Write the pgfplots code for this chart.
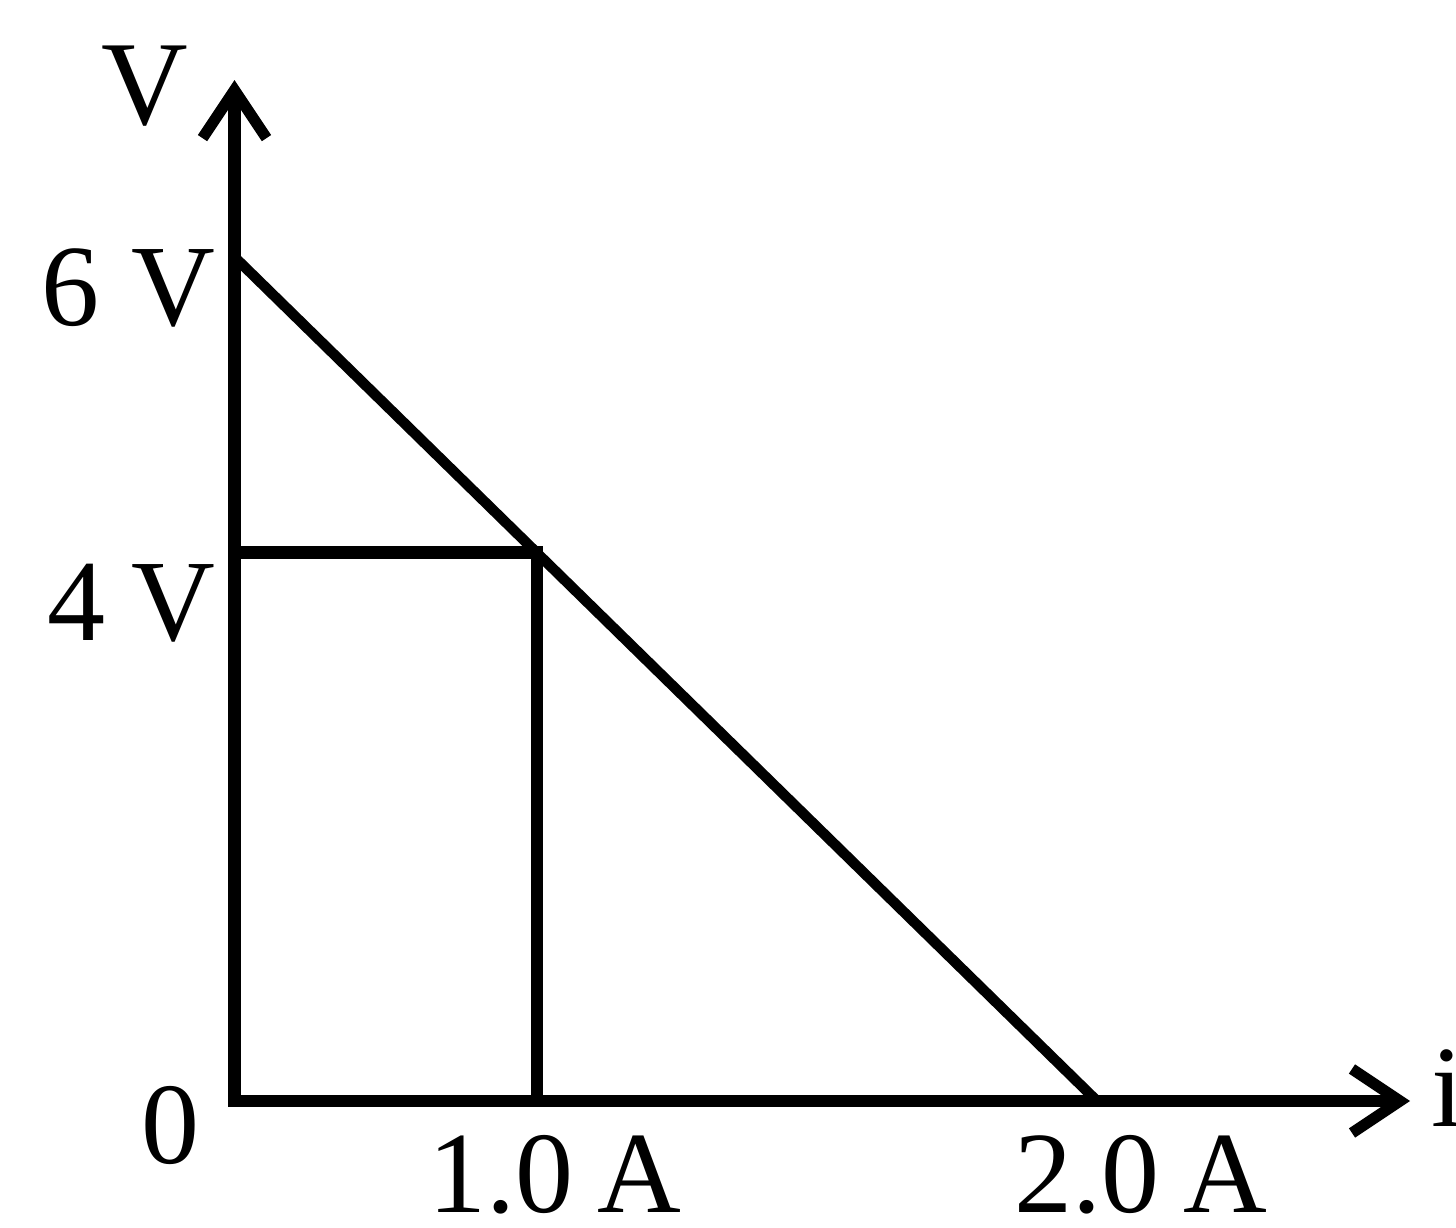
\documentclass[border=0pt]{standalone}
\usepackage{fontspec}
\setmainfont{Liberation Serif}
\usepackage{pgfplots}
\pgfplotsset{compat=1.18}
\usetikzlibrary{arrows.meta}
\begin{document}
\begin{tikzpicture}
\useasboundingbox (-58.625pt,-31.75pt) rectangle (305.375pt,275.25pt);
\begin{axis}[
  anchor=origin, at={(0pt,0pt)},
  x=107.8125pt, y=35.1675pt,
  xmin=0, xmax=2.726, ymin=0, ymax=7.258,
  axis lines=left,
  axis line style={line width=3.1pt, -{Straight Barb[length=12pt,width=16pt,line width=2.8pt]}},
  xtick={0.744,2.102},
  xticklabels={1.0\hspace{6pt}A, 2.0\hspace{6pt}A},
  ytick={3.540,5.783},
  yticklabels={4\hspace{6.5pt}V, 6\hspace{8pt}V},
  major tick length=0pt,
  tick style={draw=none},
  ticklabel style={font=\fontsize{29}{34}\selectfont},
  xticklabel style={anchor=north, inner sep=0pt, yshift=-8.5pt},
  yticklabel style={anchor=east, inner sep=0pt, xshift=-4.5pt},
  clip=false,
]
\addplot[black, line width=2.6pt, line cap=butt] coordinates {(0,6) (2,0)};
\addplot[black, line width=3.1pt, line join=miter, line cap=butt] coordinates {(0,3.899) (0.7014,3.899) (0.7014,0)};
\addplot[black, line width=3.1pt, line join=miter, line cap=butt] coordinates {(0,0.1) (0,0) (0.03,0)};
\node[inner sep=0pt, font=\fontsize{30}{36}\selectfont, xshift=-22.4pt] at (axis cs:0,7.212) {V};
\node[anchor=east, inner sep=0pt, font=\fontsize{29}{34}\selectfont, xshift=-8.5pt, yshift=-6.25pt] at (axis cs:0,0) {0};
\node[anchor=base west, inner sep=0pt, font=\fontsize{29}{34}\selectfont, xshift=5.25pt, yshift=-6.5pt] at (axis cs:2.726,0) {i};
\end{axis}
\end{tikzpicture}
\end{document}
